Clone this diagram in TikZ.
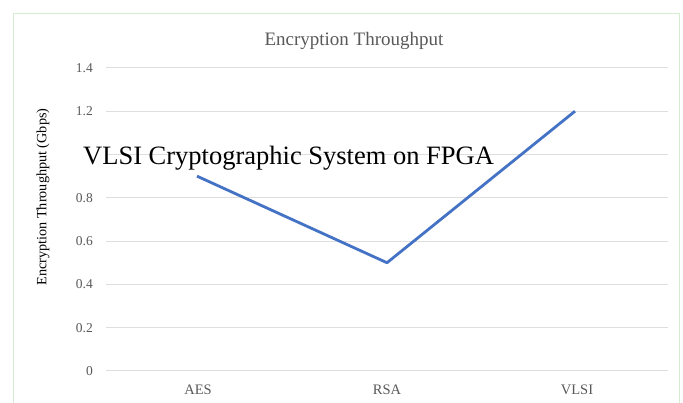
\documentclass[tikz,border=0pt]{standalone}
\usepackage{fontspec}
\setmainfont{Liberation Serif}
\usepackage{tikz}
\definecolor{framegreen}{RGB}{214,236,208}
\definecolor{gridgray}{RGB}{222,222,222}
\definecolor{labelgray}{RGB}{89,89,89}
\definecolor{seriesblue}{RGB}{68,114,196}

\begin{document}
\begin{tikzpicture}[x=1pt, y=1pt, every node/.style={inner sep=0pt},
  ticklabel/.style={anchor=east, text=labelgray, font=\fontsize{13.5}{13.5}\selectfont},
  catlabel/.style={text=labelgray, font=\fontsize{14.5}{14.5}\selectfont},
  gridline/.style={gridgray, line width=1pt}]
  \useasboundingbox (0,0) rectangle (683,403);
  \fill[white] (0,0) rectangle (683,403);
  \draw[framegreen, line width=1pt] (13,0) -- (13,389) -- (679,389) -- (679,0);
  \node[text=labelgray, font=\fontsize{19}{19}\selectfont] (title) at (354,362) {Encryption Throughput};
  \draw[gridline] (106,32.0) -- (668,32.0);
  \draw[gridline] (106,75.3) -- (668,75.3);
  \draw[gridline] (106,118.6) -- (668,118.6);
  \draw[gridline] (106,161.9) -- (668,161.9);
  \draw[gridline] (106,205.2) -- (668,205.2);
  \draw[gridline] (106,248.5) -- (668,248.5);
  \draw[gridline] (106,291.8) -- (668,291.8);
  \draw[gridline] (106,335.1) -- (668,335.1);
  \node[ticklabel] (t0) at (93,32.0) {0};
  \node[ticklabel] (t02) at (93,75.3) {0.2};
  \node[ticklabel] (t04) at (93,118.6) {0.4};
  \node[ticklabel] (t06) at (93,161.9) {0.6};
  \node[ticklabel] (t08) at (93,205.2) {0.8};
  \node[ticklabel] (t12) at (93,291.8) {1.2};
  \node[ticklabel] (t14) at (93,335.1) {1.4};
  \node[rotate=90, font=\fontsize{14.2}{14.2}\selectfont] (ylabel) at (43,206) {Encryption Throughput (Gbps)};
  \node[catlabel] (aes) at (198,13) {AES};
  \node[catlabel] (rsa) at (387,13) {RSA};
  \node[catlabel] (vlsi) at (577,13) {VLSI};
  \coordinate (pAES) at (197,226.85);
  \coordinate (pRSA) at (387,140.25);
  \coordinate (pVLSI) at (575,291.8);
  \draw[seriesblue, line width=2.8pt, line join=round] (pAES) -- (pRSA) -- (pVLSI);
  \node[anchor=base west, font=\fontsize{26.5}{26.5}\selectfont] (overlay) at (83,238) {VLSI Cryptographic System on FPGA};
\end{tikzpicture}
\end{document}
